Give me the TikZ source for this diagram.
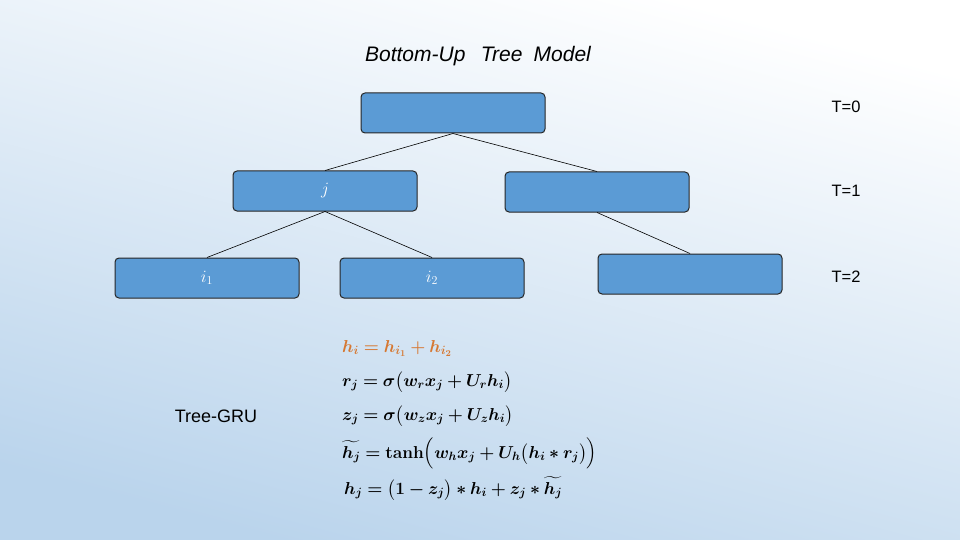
\documentclass[tikz,border=0pt]{standalone}
\usepackage{fontspec}
\setmainfont{Liberation Sans}
\usepackage{amsmath,bm}
\begin{document}
\begin{tikzpicture}[x=1pt,y=-1pt,
  box/.style={draw=black!85,line width=1pt,fill=nodeblue,rounded corners=4pt,minimum width=184pt,minimum height=40pt,inner sep=0pt,text=white,font=\fontsize{18}{20}\selectfont},
  edge/.style={draw=black,line width=0.6pt},
  lbl/.style={font=\fontsize{16.5}{18}\selectfont},
  eqn/.style={anchor=base west,inner sep=0pt,font=\fontsize{18}{20}\selectfont}]
\definecolor{nodeblue}{RGB}{91,155,213}
\definecolor{orng}{RGB}{214,120,50}
\shade[top color=white,bottom color={rgb,255:red,186;green,212;blue,236},shading angle=-15] (0,0) rectangle (960,540);
\useasboundingbox (0,0) rectangle (960,540);
\node[font=\fontsize{21}{24}\selectfont\itshape,text width=260pt,align=center] (title) at (478,56) {Bottom-Up\hspace{0.4em} Tree\hspace{0.2em} Model};
\node[box] (r) at (453,113) {};
\node[box] (j) at (325,191) {$j$};
\node[box] (r1) at (597,192) {};
\node[box] (i1) at (207,278) {$i_1$};
\node[box] (i2) at (432,278) {$i_2$};
\node[box] (r2) at (690,274) {};
\draw[edge] (r.south) -- (j.north);
\draw[edge] (r.south) -- (r1.north);
\draw[edge] (j.south) -- (i1.north);
\draw[edge] (j.south) -- (i2.north);
\draw[edge] (r1.south) -- (r2.north);
\node[lbl] (t0) at (846,107) {T=0};
\node[lbl] (t1) at (846,191) {T=1};
\node[lbl] (t2) at (846,277) {T=2};
\node[lbl,font=\fontsize{18}{20}\selectfont] (gru) at (216,416) {Tree-GRU};
\node[eqn] (e1) at (342,352) {$\color{orng}\bm{h_i = h_{i_1} + h_{i_2}}$};
\node[eqn] (e2) at (342,386) {$\bm{r_j = \sigma\bigl(w_r x_j + U_r h_i\bigr)}$};
\node[eqn] (e3) at (342,420) {$\bm{z_j = \sigma\bigl(w_z x_j + U_z h_i\bigr)}$};
\node[eqn] (e4) at (342,458) {$\bm{\widetilde{h_j} = \mathbf{tanh}\Bigl(w_h x_j + U_h\bigl(h_i * r_j\bigr)\Bigr)}$};
\node[eqn] (e5) at (344,494) {$\bm{h_j = \bigl(1 - z_j\bigr) * h_i + z_j * \widetilde{h_j}}$};
\end{tikzpicture}
\end{document}
